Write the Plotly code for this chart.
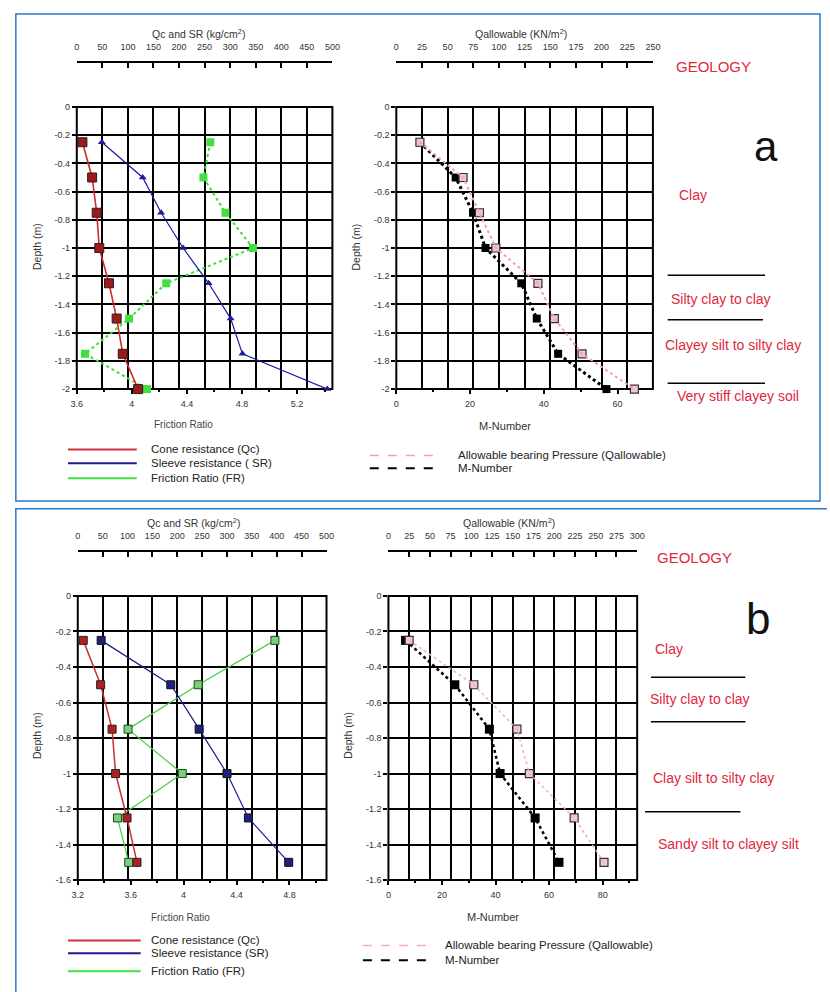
import plotly.graph_objects as go

W, H = 830, 992
def px(x): return x / W
def py(y): return 1 - y / H

FONT = "Liberation Sans, Arial, sans-serif"

# ---------------- DATA ----------------
# Panel a
depth_a = [-0.25, -0.5, -0.75, -1.0, -1.25, -1.5, -1.75, -2.0]
qc_a = [11, 30, 39, 44, 63, 78, 90, 120]            # kg/cm2 (top axis)
sr_a = [49, 129, 165, 208, 258, 301, 324, 490]      # kg/cm2 (top axis)
fr_a = [4.57, 4.52, 4.68, 4.88, 4.25, 3.98, 3.66, 4.11]  # friction ratio (bottom)
qall_a = [23, 65, 81, 97, 138, 154, 181, 232]       # KN/m2 (top axis)
mnum_a = [6.4, 16.1, 20.8, 24.2, 33.9, 38.1, 43.9, 57.0]  # M-number (bottom)

# Panel b
depth_b = [-0.25, -0.5, -0.75, -1.0, -1.25, -1.5]
qc_b = [11, 46, 69, 76, 99, 119]
sr_b = [47, 187, 244, 300, 343, 424]
fr_b = [4.69, 4.11, 3.58, 3.99, 3.50, 3.585]
qall_b = [25, 103, 155, 170, 224, 260]
mnum_b = [6.4, 24.8, 37.7, 41.7, 54.8, 63.7]

yt_a = [0, -0.2, -0.4, -0.6, -0.8, -1, -1.2, -1.4, -1.6, -1.8, -2]
yt_b = [0, -0.2, -0.4, -0.6, -0.8, -1, -1.2, -1.4, -1.6]
def ylab(v):
    return "0" if v == 0 else ("%g" % v)

geo_a = ["Clay", "Silty clay to clay", "Clayey silt to silty clay", "Very stiff clayey soil"]
geo_b = ["Clay", "Silty clay to clay", "Clay silt to silty clay", "Sandy silt to clayey silt"]

# ---------------- LAYOUT GEOMETRY ----------------
plots = {
    "aL": dict(x0=72, x1=332, y0=103, y1=388, top=58),
    "aR": dict(x0=397, x1=658, y0=103, y1=388, top=58),
    "bL": dict(x0=73, x1=326, y0=597, y1=884, top=552),
    "bR": dict(x0=389, x1=642, y0=597, y1=884, top=552),
}

fig = go.Figure()

def add(x, y, xa, ya, line=None, marker=None, mode="lines+markers"):
    kw = {}
    if line is not None:
        kw["line"] = line
    if marker is not None:
        kw["marker"] = marker
    fig.add_trace(go.Scatter(x=x, y=y, xaxis=xa, yaxis=ya, mode=mode,
                             cliponaxis=False, showlegend=False, hoverinfo="skip", **kw))

# x9..x12 = top scales anchored to the plot (carry the grid);
# x2,x4,x6,x8 = the detached top axes (same ranges)
# panel a left
add(qc_a, depth_a, "x2", "y", dict(color="#d42a2a", width=1.6),
    dict(symbol="square", size=9, color="#a01818", line=dict(color="#222", width=1)))
add(sr_a, depth_a, "x9", "y", dict(color="#1c1ca0", width=1.2),
    dict(symbol="triangle-up", size=7, color="#1c1ca0"))
add(fr_a, depth_a, "x", "y", dict(color="#38e038", width=2, dash="dot"),
    dict(symbol="square", size=8, color="#40e040"))
# panel a right
add(qall_a, depth_a, "x10", "y2", dict(color="#f0a0b4", width=2, dash="dot"), mode="lines")
add(mnum_a, depth_a, "x3", "y2", dict(color="#000", width=3, dash="dot"),
    dict(symbol="square", size=8, color="#000"))
add(qall_a, depth_a, "x4", "y2", None,
    dict(symbol="square", size=8, color="#f4c4cc", line=dict(color="#333", width=1.2)),
    mode="markers")
# panel b left
add(qc_b, depth_b, "x6", "y3", dict(color="#c83030", width=1.5),
    dict(symbol="square", size=8, color="#b02020", line=dict(color="#222", width=1)))
add(sr_b, depth_b, "x11", "y3", dict(color="#1c1c90", width=1.2),
    dict(symbol="square", size=8, color="#1c2080", line=dict(color="#111", width=1)))
add(fr_b, depth_b, "x5", "y3", dict(color="#44d044", width=1.2),
    dict(symbol="square", size=8, color="#78d078", line=dict(color="#1a4a1a", width=1)))
# panel b right
add(qall_b, depth_b, "x12", "y4", dict(color="#f0b0c0", width=1.5, dash="dot"), mode="lines")
add(mnum_b, depth_b, "x7", "y4", dict(color="#000", width=2.5, dash="dot"),
    dict(symbol="square", size=9, color="#000"))
add(qall_b, depth_b, "x8", "y4", None,
    dict(symbol="square", size=8, color="#f4c8d0", line=dict(color="#333", width=1.2)),
    mode="markers")

tickfont = dict(family=FONT, size=9, color="#333")

def bottom_axis(p, anchor, rng, tv, minor_dtick):
    return dict(domain=[px(p["x0"]), px(p["x1"])], anchor=anchor, range=rng, showgrid=False,
                zeroline=False, showline=False, ticks="outside", ticklen=4,
                tickcolor="#000", tickwidth=1.5, tickvals=tv, tickfont=tickfont,
                minor=dict(ticks="outside", ticklen=2, dtick=minor_dtick, tick0=rng[0],
                           tickcolor="#000", showgrid=False),
                fixedrange=True, ticklabelstandoff=2)

def grid_axis(over, anchor, rng, dt):
    return dict(overlaying=over, anchor=anchor, side="top", range=rng, dtick=dt, tick0=0,
                showgrid=True, gridcolor="#000", gridwidth=2, zeroline=False,
                showline=False, ticks="", showticklabels=False, fixedrange=True)

def top_axis(p, over, rng, dt):
    return dict(overlaying=over, anchor="free", position=py(p["top"]), side="top",
                range=rng, dtick=dt, tick0=0, showgrid=False, zeroline=False,
                showline=True, linecolor="#000", linewidth=1.5, ticks="inside",
                ticklen=5, tickcolor="#000", tickwidth=1.5, tickfont=tickfont,
                ticklabelstandoff=8, fixedrange=True)

def y_axis(p, anchor, rng, tv):
    return dict(domain=[py(p["y1"]), py(p["y0"])], anchor=anchor, range=rng,
                tickvals=tv, ticktext=[ylab(v) for v in tv], showgrid=True,
                gridcolor="#000", gridwidth=2, zeroline=False, showline=False,
                ticks="outside", ticklen=4, tickcolor="#000", tickwidth=1.5,
                tickfont=tickfont, fixedrange=True)

pa, pb, pc, pd = plots["aL"], plots["aR"], plots["bL"], plots["bR"]
fig.update_layout(
    xaxis=bottom_axis(pa, "y", [3.6, 5.457], [3.6, 4.0, 4.4, 4.8, 5.2], 0.2),
    xaxis2=top_axis(pa, "x", [0, 500], 50),
    xaxis9=grid_axis("x", "y", [0, 500], 50),
    yaxis=y_axis(pa, "x", [-2, 0], yt_a),
    xaxis3=bottom_axis(pb, "y2", [0, 69.6], [0, 20, 40, 60], 10),
    xaxis4=top_axis(pb, "x3", [0, 250], 25),
    xaxis10=grid_axis("x3", "y2", [0, 250], 25),
    yaxis2=y_axis(pb, "x3", [-2, 0], yt_a),
    xaxis5=bottom_axis(pc, "y3", [3.2, 5.08], [3.2, 3.6, 4.0, 4.4, 4.8], 0.2),
    xaxis6=top_axis(pc, "x5", [0, 500], 50),
    xaxis11=grid_axis("x5", "y3", [0, 500], 50),
    yaxis3=y_axis(pc, "x5", [-1.6, 0], yt_b),
    xaxis7=bottom_axis(pd, "y4", [0, 92.9], [0, 20, 40, 60, 80], 10),
    xaxis8=top_axis(pd, "x7", [0, 300], 25),
    xaxis12=grid_axis("x7", "y4", [0, 300], 25),
    yaxis4=y_axis(pd, "x7", [-1.6, 0], yt_b),
)

shapes = []
annots = []
def rect(x0, y0, x1, y1, color, width, layer="between"):
    shapes.append(dict(type="rect", xref="paper", yref="paper", x0=px(x0), x1=px(x1),
                       y0=py(y0), y1=py(y1), line=dict(color=color, width=width),
                       layer=layer))
def hline(x0, x1, y, color="#000", width=1.5, dash="solid"):
    shapes.append(dict(type="line", xref="paper", yref="paper", x0=px(x0), x1=px(x1),
                       y0=py(y), y1=py(y), line=dict(color=color, width=width, dash=dash)))
def text(x, y, s, size=10, color="#222", xanchor="center", angle=0, family=FONT):
    annots.append(dict(xref="paper", yref="paper", x=px(x), y=py(y), text=s,
                       showarrow=False, xanchor=xanchor, yanchor="middle",
                       textangle=angle, borderpad=0,
                       font=dict(family=family, size=size, color=color)))

# panel borders
shapes.append(dict(type="rect", xref="paper", yref="paper", x0=px(10), x1=px(828),
                   y0=py(9), y1=py(501), line=dict(color="#2a78c8", width=1.5), layer="below"))
shapes.append(dict(type="path", xref="paper", yref="paper",
                   path="M %f %f L %f %f L %f %f" % (px(10), py(1000), px(10), py(509), px(835), py(509)),
                   line=dict(color="#2a78c8", width=1.5), layer="below"))

# plot frames
for p in plots.values():
    rect(p["x0"], p["y0"], p["x1"], p["y1"], "#000", 2)

# axis titles
text(196, 29, "Qc and SR (kg/cm<sup>2</sup>)", 10.5, "#333")
text(524, 29, "Qallowable (KN/m<sup>2</sup>)", 10.5, "#333")
text(191, 523, "Qc and SR (kg/cm<sup>2</sup>)", 10.5, "#333")
text(512, 523, "Qallowable (KN/m<sup>2</sup>)", 10.5, "#333")
text(181, 424, "Friction Ratio", 10, "#444")
text(508, 425, "M-Number", 11, "#333")
text(178, 922, "Friction Ratio", 10, "#444")
text(495, 921, "M-Number", 11, "#333")
text(31, 244, "Depth (m)", 10.5, "#333", angle=-90)
text(356, 244, "Depth (m)", 10.5, "#333", angle=-90)
text(31, 738, "Depth (m)", 10.5, "#333", angle=-90)
text(347, 738, "Depth (m)", 10.5, "#333", angle=-90)

# legends (panel a)
LEG = 11.5
hline(63, 133, 449, "#d03040", 2)
hline(63, 133, 463, "#1c1c90", 2)
hline(63, 133, 478, "#40e040", 2)
text(146, 449, "Cone resistance (Qc)", LEG, "#222", "left")
text(146, 463, "Sleeve resistance ( SR)", LEG, "#222", "left")
text(146, 478, "Friction Ratio (FR)", LEG, "#222", "left")
hline(370, 440, 455, "#f0a0b4", 1.5, "dash")
hline(370, 440, 468, "#000", 2, "dash")
text(459, 455, "Allowable bearing Pressure (Qallowable)", LEG, "#222", "left")
text(459, 468, "M-Number", LEG, "#222", "left")
# legends (panel b)
hline(63, 137, 945, "#d03040", 2)
hline(63, 137, 958, "#1c1c90", 2)
hline(63, 137, 976, "#40e040", 2)
text(146, 945, "Cone resistance (Qc)", LEG, "#222", "left")
text(146, 958, "Sleeve resistance (SR)", LEG, "#222", "left")
text(146, 976, "Friction Ratio (FR)", LEG, "#222", "left")
hline(363, 430, 950, "#f0b0c0", 1.5, "dash")
hline(363, 430, 965, "#000", 2, "dash")
text(446, 950, "Allowable bearing Pressure (Qallowable)", LEG, "#222", "left")
text(446, 965, "M-Number", LEG, "#222", "left")

# geology (panel a)
RED = "#e0283c"
GS = 14
text(720, 62, "GEOLOGY", 15, RED)
text(773, 143, "a", 42, "#111")
text(699, 192, geo_a[0], GS, RED)
hline(673, 772, 273)
text(727, 297, geo_a[1], GS, RED)
hline(673, 770, 318)
text(739, 343, geo_a[2], GS, RED)
hline(673, 772, 382)
text(745, 395, geo_a[3], GS, RED)
# geology (panel b)
text(700, 558, "GEOLOGY", 15, RED)
text(765, 620, "b", 44, "#111")
text(674, 651, geo_b[0], GS, RED)
hline(656, 752, 679)
text(706, 701, geo_b[1], GS, RED)
hline(656, 752, 724)
text(720, 781, geo_b[2], GS, RED)
hline(650, 747, 815)
text(735, 848, geo_b[3], GS, RED)

fig.update_layout(width=W, height=H, margin=dict(l=0, r=0, t=0, b=0),
                  paper_bgcolor="white", plot_bgcolor="white",
                  shapes=shapes, annotations=annots, showlegend=False,
                  font=dict(family=FONT))

fig.write_html("out.html")
